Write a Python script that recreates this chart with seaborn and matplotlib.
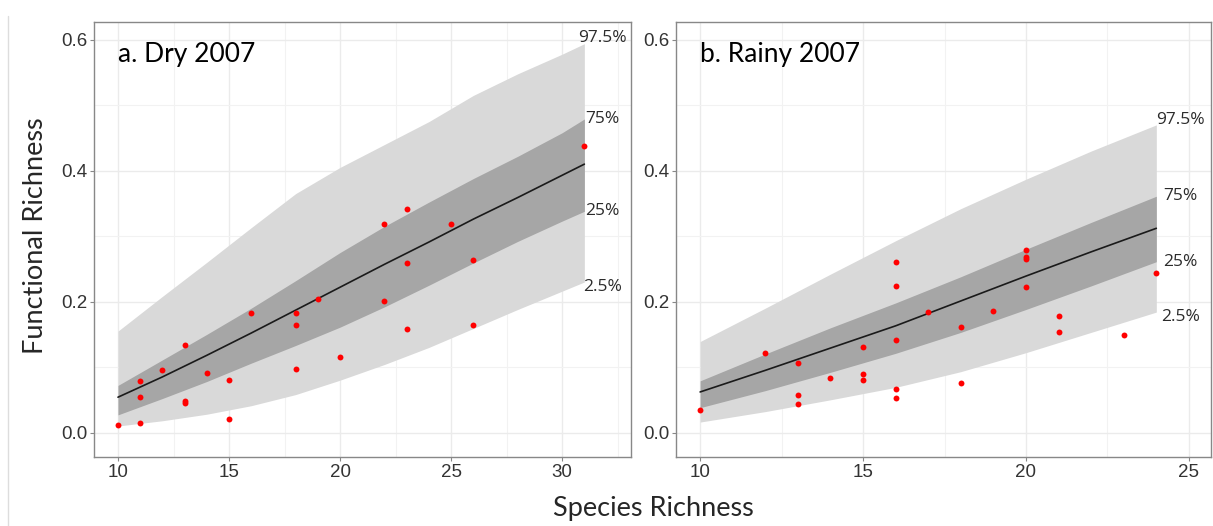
import matplotlib
matplotlib.use("Agg")
import matplotlib.pyplot as plt
from matplotlib.lines import Line2D
from matplotlib.ticker import MultipleLocator, FormatStrFormatter
import pandas as pd
import seaborn as sns

# observed plots: species richness vs functional richness
dry_sr = [10, 11, 11, 11, 12, 13, 13, 13, 14, 15, 15, 16, 18, 18, 18, 19, 20,
          22, 22, 23, 23, 23, 25, 26, 26, 31]
dry_fr = [0.012, 0.014, 0.055, 0.078, 0.095, 0.134, 0.048, 0.045, 0.091, 0.080,
          0.021, 0.182, 0.182, 0.164, 0.097, 0.204, 0.116, 0.318, 0.201, 0.342,
          0.259, 0.158, 0.319, 0.263, 0.164, 0.438]

rainy_sr = [10, 12, 13, 13, 13, 14, 15, 15, 15, 16, 16, 16, 16, 16, 17, 18, 18,
            19, 20, 20, 20, 20, 21, 21, 23, 24]
rainy_fr = [0.034, 0.122, 0.106, 0.057, 0.044, 0.083, 0.131, 0.090, 0.080, 0.260,
            0.224, 0.141, 0.067, 0.053, 0.184, 0.161, 0.076, 0.185, 0.279, 0.268,
            0.265, 0.222, 0.178, 0.153, 0.149, 0.244]

# null model envelopes
dry_grid = [10, 12, 14, 16, 18, 20, 22, 24, 26, 28, 30, 31]
dry_q975 = [0.155, 0.208, 0.260, 0.313, 0.365, 0.405, 0.440, 0.475, 0.515, 0.548, 0.578, 0.594]
dry_q75 = [0.072, 0.111, 0.150, 0.190, 0.232, 0.275, 0.315, 0.352, 0.388, 0.422, 0.458, 0.479]
dry_mean = [0.054, 0.085, 0.118, 0.152, 0.187, 0.222, 0.257, 0.291, 0.326, 0.359, 0.393, 0.410]
dry_q25 = [0.027, 0.052, 0.078, 0.106, 0.133, 0.161, 0.192, 0.225, 0.259, 0.292, 0.323, 0.338]
dry_q025 = [0.010, 0.018, 0.028, 0.041, 0.058, 0.080, 0.104, 0.130, 0.159, 0.188, 0.216, 0.230]

rainy_grid = [10, 12, 14, 16, 18, 20, 22, 24]
rainy_q975 = [0.139, 0.190, 0.242, 0.293, 0.342, 0.387, 0.430, 0.470]
rainy_q75 = [0.079, 0.120, 0.160, 0.198, 0.238, 0.280, 0.321, 0.361]
rainy_mean = [0.062, 0.095, 0.129, 0.163, 0.201, 0.239, 0.276, 0.312]
rainy_q25 = [0.038, 0.064, 0.092, 0.121, 0.153, 0.188, 0.224, 0.261]
rainy_q025 = [0.016, 0.032, 0.050, 0.069, 0.093, 0.122, 0.153, 0.184]

quant_labels = ["97.5%", "75%", "25%", "2.5%"]
titles = ["a. Dry 2007", "b. Rainy 2007"]

sns.set_style("white")
plt.rcParams["font.family"] = ["Liberation Sans", "DejaVu Sans"]

fig = plt.figure(figsize=(12.13, 5.26), dpi=100)
ax1 = fig.add_axes([0.0775, 0.131, 0.4427, 0.827])
ax2 = fig.add_axes([0.5573, 0.131, 0.4411, 0.827])

panels = [
    (ax1, dry_sr, dry_fr, dry_grid, [dry_q975, dry_q75, dry_mean, dry_q25, dry_q025],
     (8.92, 33.1), 31.8),
    (ax2, rainy_sr, rainy_fr, rainy_grid, [rainy_q975, rainy_q75, rainy_mean, rainy_q25, rainy_q025],
     (9.26, 25.68), 24.75),
]

for i, (ax, sr, fr, grid, qs, xlim, lab_x) in enumerate(panels):
    q975, q75, qmean, q25, q025 = qs
    env = pd.DataFrame({"sr": grid, "mean": qmean})
    obs = pd.DataFrame({"sr": sr, "fr": fr})

    ax.fill_between(grid, q025, q975, color="#d9d9d9", lw=0, zorder=1)
    ax.fill_between(grid, q25, q75, color="#a6a6a6", lw=0, zorder=2)
    sns.lineplot(data=env, x="sr", y="mean", color="#1a1a1a", lw=1.2, ax=ax, zorder=3)
    sns.scatterplot(data=obs, x="sr", y="fr", color="#ff0000", s=18, linewidth=0,
                    ax=ax, zorder=4)

    # quantile labels at the end of each envelope
    offs = [0.008, 0.0, 0.0, -0.008]
    for lab, q, dy in zip(quant_labels, [q975, q75, q25, q025], offs):
        ax.text(lab_x, q[-1] + dy, lab, ha="center", va="center", fontsize=12.5,
                color="#2b2b2b", family=["Open Sans", "DejaVu Sans"], zorder=5)

    ax.text(10, 0.578, titles[i], ha="left", va="center", fontsize=19,
            color="black", family=["Lato", "DejaVu Sans"])

    ax.set_xlim(*xlim)
    ax.set_ylim(-0.0375, 0.627)
    ax.xaxis.set_major_locator(MultipleLocator(5))
    ax.xaxis.set_minor_locator(MultipleLocator(2.5))
    ax.yaxis.set_major_locator(MultipleLocator(0.2))
    ax.yaxis.set_minor_locator(MultipleLocator(0.1))
    ax.yaxis.set_major_formatter(FormatStrFormatter("%.1f"))
    ax.grid(which="major", color="#ebebeb", lw=1.0, zorder=0)
    ax.grid(which="minor", color="#f2f2f2", lw=0.8, zorder=0)
    ax.set_axisbelow(True)
    ax.tick_params(which="major", direction="out", length=3, width=0.8,
                   color="#888888", labelcolor="#333333", labelsize=13.5, pad=2,
                   left=True, bottom=True)
    ax.tick_params(which="minor", length=0)
    for lbl in ax.get_xticklabels() + ax.get_yticklabels():
        lbl.set_family(["Liberation Sans", "DejaVu Sans"])
    for sp in ax.spines.values():
        sp.set_color("#888888")
        sp.set_linewidth(1.0)
    ax.set_xlabel("")
    ax.set_ylabel("")

fig.text(0.029, 0.551, "Functional Richness", rotation=90, ha="center", va="center",
         fontsize=19.5, family=["Lato", "DejaVu Sans"])
fig.text(0.539, 0.034, "Species Richness", ha="center", va="center",
         fontsize=19.5, family=["Lato", "DejaVu Sans"])

# faint frame line at the left edge of the original screenshot
fig.add_artist(Line2D([0.0066, 0.0066], [0.0, 0.97], transform=fig.transFigure,
                      color="#dddddd", lw=1))

fig.savefig("out.png", dpi=100)
